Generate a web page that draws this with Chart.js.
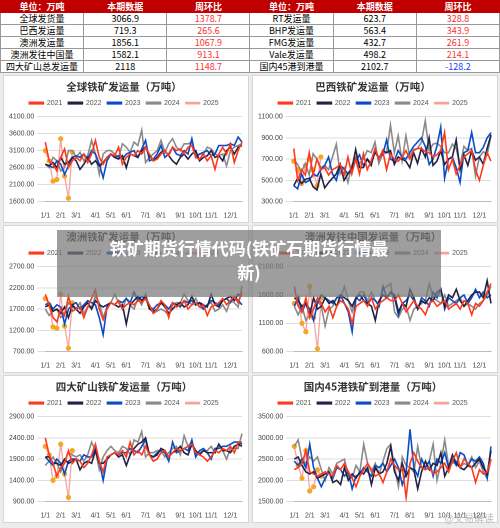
<!DOCTYPE html>
<html><head><meta charset="utf-8">
<script src="https://cdn.jsdelivr.net/npm/chart.js@4"></script>
<style>
body{margin:0;width:500px;height:528px;background:#ececec;font-family:"Noto Sans CJK SC","Noto Sans",sans-serif;position:relative;overflow:hidden}
table{border-collapse:collapse;width:500px;table-layout:fixed;background:#fff}
td,th{height:11px;padding:0;font-size:9px;line-height:11px;text-align:center;border:1px solid #999;white-space:nowrap}
th{background:#c00000;color:#fff;font-weight:bold;border-color:#c00000}
.r{color:#ff3030}.b{color:#2040ff}
.p{position:absolute;width:244px;height:146px;background:#fff;border:1px solid #d6d6d6}
.ov{position:absolute;left:57px;top:230px;width:384px;height:67px;background:rgba(120,120,120,0.72);color:#fff;font-weight:bold;font-size:17px;line-height:24px;text-align:center;padding-top:6px;box-sizing:border-box}
.wm{position:absolute;right:6px;bottom:3px;font-size:10px;color:rgba(150,150,150,0.6)}
</style></head><body>
<table>
<tr><th>单位：万吨</th><th>本期数据</th><th>周环比</th><th>单位：万吨</th><th>本期数据</th><th>周环比</th></tr>
<tr><td>全球发货量</td><td>3066.9</td><td class="r">1378.7</td><td>RT发运量</td><td>623.7</td><td class="r">328.8</td></tr>
<tr><td>巴西发运量</td><td>719.3</td><td class="r">265.6</td><td>BHP发运量</td><td>563.4</td><td class="r">343.9</td></tr>
<tr><td>澳洲发运量</td><td>1856.1</td><td class="r">1067.9</td><td>FMG发运量</td><td>432.7</td><td class="r">261.9</td></tr>
<tr><td>澳洲发往中国量</td><td>1582.1</td><td class="r">913.1</td><td>Vale发运量</td><td>498.2</td><td class="r">214.1</td></tr>
<tr><td>四大矿山总发运量</td><td>2118</td><td class="r">1148.7</td><td>国内45港到港量</td><td>2102.7</td><td class="b">-128.2</td></tr>
</table>
<div class="p" style="left:3px;top:75px"><canvas id="c1"></canvas></div>
<div class="p" style="left:252px;top:75px"><canvas id="c2"></canvas></div>
<div class="p" style="left:3px;top:225px"><canvas id="c3"></canvas></div>
<div class="p" style="left:252px;top:225px"><canvas id="c4"></canvas></div>
<div class="p" style="left:3px;top:375px"><canvas id="c5"></canvas></div>
<div class="p" style="left:252px;top:375px"><canvas id="c6"></canvas></div>
<div class="ov">铁矿期货行情代码(铁矿石期货行情最<br>新)</div>
<div class="wm">@交易解读</div>
<script>
const monthTicks={0:'1/1',4:'2/1',8:'3/1',13:'4/1',17:'5/1',21:'6/1',26:'7/1',30:'8/1',35:'9/1',39:'10/1',43:'11/1',48:'12/1'};
const weeks=Array.from({length:52},(_,i)=>monthTicks[i]||'w'+i);
const years=['2021','2022','2023','2024','2025'];
const colors=['#ff3a1c','#222244','#0a4cc8','#8a8a8a','#f7a3a3'];

const g21=[3350,2800,2700,2500,2900,3150,2600,2800,2900,2800,3000,2750,3000,3400,2900,2700,2900,3000,2950,3200,2700,2900,3000,2950,3100,3000,3200,3000,2800,2850,3000,3100,2950,3200,3100,3150,3000,3200,3250,2900,2850,3000,2800,2950,2550,3000,3200,3000,3300,2750,3100,3350];
const g22=[2700,2650,2750,2600,2900,2700,2750,2900,2800,2550,2700,2900,2700,2800,2650,2750,2900,3000,2900,2850,2950,2600,3000,2950,2900,3100,3200,2950,2800,2900,3050,3100,2950,2800,2700,2900,3000,2850,3000,3100,2800,2900,2950,3100,2900,2950,2800,3100,3200,3000,3200,3250];
const g23=[2700,2650,2600,2800,2700,2400,2650,2900,2950,2900,3000,2850,3100,3000,2700,2300,2800,3000,2900,2950,2850,3000,3050,3100,2900,3150,3400,2800,2850,3000,3250,2900,3000,3200,3000,2950,3100,3000,3450,2900,3000,3050,3100,2950,3000,3250,3250,3250,3300,3250,3500,3350];
const g24=[2700,2600,2900,2800,2500,2600,3100,3100,2900,3050,2800,2950,3400,3000,2400,3000,3100,3100,3000,2900,3300,3200,3050,3350,3250,3700,2750,2900,3000,3100,3400,3050,3300,3450,3200,3100,3300,3300,3350,2950,3000,3000,3200,3150,3000,2950,3000,2650,3100,3200,3250,3300];
const g25=[3100,2800,2200,2250,3450,2350,1700,3050];

const b21=[800,500,600,550,760,550,700,600,620,550,600,620,650,550,720,560,700,560,750,600,680,800,700,780,600,750,700,680,720,780,700,780,800,800,770,760,720,740,780,950,600,700,560,640,720,750,780,600,500,640,760,680];
const b22=[450,520,470,510,520,440,410,560,430,480,520,560,650,500,560,600,790,620,620,700,640,780,700,780,760,780,650,720,700,680,620,760,660,800,720,900,640,680,780,650,700,720,880,600,740,640,780,690,720,650,800,930];
const b23=[450,420,560,480,500,560,540,600,640,720,560,500,640,610,560,620,680,740,640,700,660,760,720,740,880,700,680,780,720,700,760,820,860,900,820,650,700,820,1000,520,700,720,620,480,760,780,950,760,760,810,900,950];
const b24=[700,650,580,660,550,750,700,620,640,600,720,840,560,620,480,640,720,660,700,780,760,860,660,750,760,1020,760,920,680,920,720,790,800,860,1060,780,840,850,820,760,760,840,800,640,820,780,800,540,720,770,740,920];
const b25=[680,600,470,640,700,600,450,720];

const a21=[2050,1800,1500,1400,1700,1550,2000,1650,1700,1750,1500,1750,1950,2150,1700,1450,1700,1850,1800,1900,1700,1800,1850,1800,1900,1850,1950,1800,1600,1700,1900,1800,1500,1850,1750,1800,1900,1700,1800,1850,1750,1800,1550,1750,1800,1850,1950,1800,1900,2000,1850,2100];
const a22=[1750,1800,1650,1700,1600,1750,1500,1800,1700,1600,1750,1850,1700,1900,1800,1750,1800,1850,1800,1750,1800,1350,1800,1900,2000,1900,2000,1700,1650,1700,1850,1750,1600,1700,1800,1850,1750,1800,2000,1800,1850,1800,1750,2050,1800,1750,1900,1950,2000,1900,2050,2000];
const a23=[1800,1850,1700,1800,1750,1350,1700,1800,1850,1700,1800,1900,1850,1800,1500,1100,1750,1850,1800,1900,1850,1950,1850,2100,1900,2000,1950,1750,1700,1800,1850,1800,1700,1850,1800,1750,1900,1850,1900,1800,1850,1700,1800,1900,1850,1800,1900,1950,1850,2000,1900,1800];
const a24=[1700,1550,1650,1700,1500,1600,1850,1750,1700,1850,1600,1750,1750,2000,1850,1500,1750,1850,2050,1850,1700,1950,1800,1700,1950,1800,2050,1750,1600,1650,1700,1650,1550,1800,1850,1850,2050,1900,1800,1950,1750,1700,1800,1850,1650,1700,1800,1650,1900,1850,1750,2250];
const a25=[1950,1800,1280,1250,2050,1300,780,1850];

const c21=[1750,1400,1300,1550,1200,1350,1550,1450,1300,1400,1200,1400,1500,1450,1350,1100,1400,1450,1500,1400,1550,1350,1450,1500,1550,1500,1500,1600,1450,1300,1400,1500,1400,1350,1250,1450,1500,1400,1450,1500,1350,1400,1450,1350,1500,1450,1250,1450,1400,1500,1650,1800];
const c22=[1550,1500,1400,1450,1250,1550,1350,1400,1550,1450,1500,1400,1600,1550,1500,1400,1550,1600,1500,1450,1400,1150,1500,1600,1550,1650,1600,1300,1450,1400,1700,1550,1350,1500,1450,1550,1500,1650,1700,1400,1600,1550,1700,1500,1400,1500,1600,1650,1650,1550,1850,1450];
const c23=[1400,1550,1300,1450,1350,1150,1450,1600,1550,1500,1450,1550,1600,1450,1300,950,1550,1500,1600,1450,1550,1500,1400,1750,1550,1650,1550,1250,1450,1500,1600,1500,1350,1550,1500,1400,1650,1550,1700,1350,1550,1500,1450,1550,1600,1450,1550,1700,1550,1650,1550,1600];
const c24=[1400,1250,1400,1150,1250,1350,1500,1400,1050,1350,1400,1550,1550,1750,1500,1300,1550,1650,1650,1500,1650,1500,1450,1700,1750,1800,1300,1200,1350,1400,1150,1350,1400,1450,1500,1800,1550,1500,1450,1600,1400,1450,1500,1550,1400,1450,1400,1350,1450,1500,1600,1750];
const c25=[1450,1550,1100,950,1750,1200,650,1550];

const f21=[2400,2000,1800,1500,1700,1800,2100,1800,1900,1850,1700,1800,2000,2250,1850,1600,1950,2000,2050,2000,2100,1950,2300,2000,2100,2000,2200,2000,1850,1900,2050,2100,1950,2050,2150,2100,2150,2200,2250,2050,2000,1950,1850,1950,2100,2050,2150,2100,2200,2050,2300,2300];
const f22=[1950,1950,1800,1800,1750,1900,1800,1850,1900,1650,1800,1850,1800,2100,1800,1800,1900,2000,2050,1950,2000,1750,2000,2150,2250,2300,2400,2000,1950,2000,2150,2100,1950,2050,2100,2200,2050,2000,2250,2100,2000,2100,2050,2050,2050,2250,2100,2100,2050,2200,2250,2200];
const f23=[1950,1850,1750,1900,1800,1550,1850,1900,1900,1850,2000,1950,1950,2150,1850,1400,1900,2000,2050,2000,2050,2050,2150,2100,2050,2200,2350,2000,1950,2050,2100,2050,1850,2300,2050,2100,2150,2100,2350,1950,2100,2150,2050,1900,2150,2150,2200,2200,2250,2300,2300,2250];
const f24=[1750,1850,1950,1800,1600,1850,2050,2000,1950,2000,1850,2000,2300,2100,1650,1950,2100,2200,2100,2050,2200,2150,2000,2350,2300,2550,1950,2050,2050,2100,2100,1950,2050,2150,2200,2000,2450,2200,2300,2000,2050,2100,2100,2200,2050,2250,2100,1900,2150,2150,2150,2500];
const f25=[2200,2000,1400,1500,2250,1550,1000,2100];

const p21=[2250,2300,2400,2700,2200,2150,2100,2150,2200,2150,2100,2350,2250,2400,2200,2050,1850,2100,2250,2400,2250,2100,2150,1950,2200,2500,2350,2250,2300,1600,2400,2650,2450,2300,2250,2300,2150,2200,2300,2400,2200,2450,2650,2300,2500,2400,2300,1950,2250,2150,2200,2500];
const p22=[2500,2550,2350,2200,2150,2200,2050,2100,2150,2200,1950,2000,1900,2300,2000,2150,2050,2200,2150,2300,1900,2300,2150,2200,2400,2800,2200,2000,2400,2100,2300,2250,1800,2200,2450,2250,2400,2350,2650,2100,2300,2600,2400,2300,2250,2350,2300,2400,2500,2300,2150,2700];
const p23=[2450,2350,2500,2300,2850,2300,2050,1850,2050,2200,2050,2300,2250,2100,2200,1800,2100,2150,2300,2200,2100,2350,2300,2400,2200,2350,2500,2300,1900,2200,3200,2300,2100,2500,2300,2450,2100,2500,2400,2650,2300,2500,2350,2650,2600,2350,2500,2450,2550,2400,2050,2800];
const p24=[2800,2950,2500,2400,2550,2450,2550,2250,2000,2300,2150,2400,2450,2500,2100,2050,2350,2200,2850,2400,2200,2400,2150,2450,2750,2850,2300,1850,2550,2350,2300,2200,2800,2300,2300,2450,2850,2000,2400,2950,2350,2400,2450,2300,2400,2350,2550,2300,2450,2200,2050,2500];
const p25=[2800,2350,2050,2700,1750,1850,2250,2100];

function mk(id,title,min,max,step,d){
  const ds=d.map((arr,i)=>({label:years[i],data:arr,borderColor:colors[i],backgroundColor:i==4?'#f5a623':colors[i],borderWidth:i==4?1.3:1.6,
    pointRadius:i==4?2.6:0,pointBackgroundColor:'#f5a623',pointBorderWidth:0,tension:0}));
  new Chart(document.getElementById(id),{type:'line',data:{labels:weeks,datasets:ds},
  options:{responsive:false,animation:false,devicePixelRatio:2,
   layout:{padding:{left:2,right:6,top:0,bottom:0}},
   plugins:{title:{display:true,text:title,color:'#333',font:{size:10.5,family:'Noto Sans CJK SC'},padding:{top:4,bottom:1}},
    legend:{labels:{boxWidth:14,boxHeight:1.5,font:{size:7},color:'#555',padding:6},},tooltip:{enabled:false}},
   scales:{x:{grid:{display:false},border:{color:'#bbb'},ticks:{autoSkip:false,maxRotation:0,font:{size:7},color:'#444',padding:2,callback:(v,i)=>monthTicks[i]||''}},
    y:{min:min,max:max,ticks:{stepSize:step,font:{size:7},color:'#444',callback:v=>v.toFixed(2)},grid:{color:'#ddd'},border:{display:false}}}}});
}
for(const c of ['c1','c2','c3','c4','c5','c6']){const e=document.getElementById(c);e.width=244;e.height=146;e.style.width='244px';e.style.height='146px';}
mk('c1','全球铁矿发运量（万吨）',1600,4100,500,[g21,g22,g23,g24,g25]);
mk('c2','巴西铁矿发运量（万吨）',300,1100,200,[b21,b22,b23,b24,b25]);
mk('c3','澳洲铁矿发运量（万吨）',700,2700,500,[a21,a22,a23,a24,a25]);
mk('c4','澳洲发往中国发运量（万吨）',600,2100,500,[c21,c22,c23,c24,c25]);
mk('c5','四大矿山铁矿发运量（万吨）',900,2900,500,[f21,f22,f23,f24,f25]);
mk('c6','国内45港铁矿到港量（万吨）',1500,3500,500,[p21,p22,p23,p24,p25]);
</script>
</body></html>
